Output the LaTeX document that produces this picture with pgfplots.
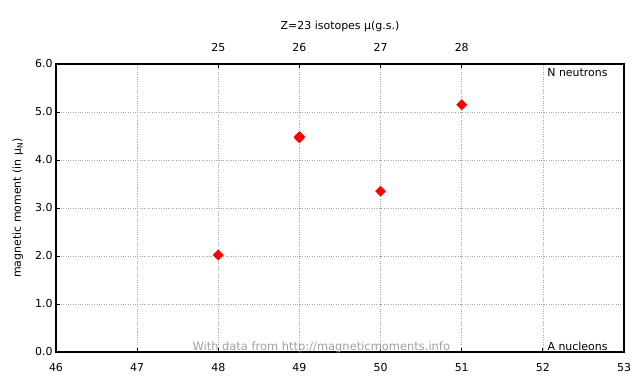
\documentclass[border=0pt]{standalone}
\usepackage{pgfplots}
\pgfplotsset{compat=1.18}
\usepackage{fontspec}
\setmainfont{DejaVu Sans}
\begin{document}
\begin{tikzpicture}[x=1bp,y=1bp]
\path[use as bounding box] (-56,-32) rectangle (584,352);
\begin{axis}[
  at={(0,0)}, anchor=south west,
  scale only axis, width=568bp, height=288bp,
  xmin=46, xmax=53, ymin=0, ymax=6,
  xtick={46,...,53}, ytick={0,1,...,6},
  tick align=inside,
  xtick pos=bottom, ytick pos=left,
  major tick length=4bp,
  grid=major,
  major grid style={dotted, gray!70, line width=0.6pt},
  axis line style={line width=1.2pt},
  every tick/.style={black, line width=0.8pt},
  ticklabel style={font=\fontsize{11}{13}\selectfont},
  /pgf/number format/assume math mode=true,
  yticklabel style={/pgf/number format/.cd, fixed, fixed zerofill, precision=1},
  xticklabel style={yshift=-8bp, /pgf/number format/.cd, fixed, precision=0},
  ylabel={magnetic moment (in μ\textsubscript{N})},
  ylabel style={font=\fontsize{11}{13}\selectfont, at={(axis description cs:-0.067,0.5)}, anchor=center},
  clip=false,
]
\addplot[only marks, mark=square*, mark size=3.6bp, mark options={rotate=45}, color=red, fill=red]
  coordinates {(48,2.02) (49,4.46) (49,4.49) (50,3.35) (51,5.15)};
\node[anchor=north east, font=\fontsize{11}{13}\selectfont, inner sep=0pt] at (axis cs:52.80,5.92) {N neutrons};
\node[anchor=south east, font=\fontsize{11}{13}\selectfont, inner sep=0pt] at (axis cs:52.80,0.02) {A nucleons};
\node[anchor=south west, font=\fontsize{11.5}{13}\selectfont, text=gray!75, inner sep=0pt] at (axis cs:47.68,-0.03) {With data from http://magneticmoments.info};
\end{axis}
\begin{axis}[
  at={(0,0)}, anchor=south west,
  scale only axis, width=568bp, height=288bp,
  xmin=46, xmax=53, ymin=0, ymax=6,
  axis x line*=top, axis y line=none,
  xtick={48,49,50,51}, xticklabels={25,26,27,28},
  tick align=inside, major tick length=4bp,
  axis line style={line width=1.2pt},
  every tick/.style={black, line width=0.8pt},
  ticklabel style={font=\fontsize{11}{13}\selectfont},
  xticklabel style={yshift=9bp},
  title={Z=23 isotopes μ(g.s.)},
  title style={font=\fontsize{11}{13}\selectfont, yshift=23bp},
]
\end{axis}
\end{tikzpicture}
\end{document}
